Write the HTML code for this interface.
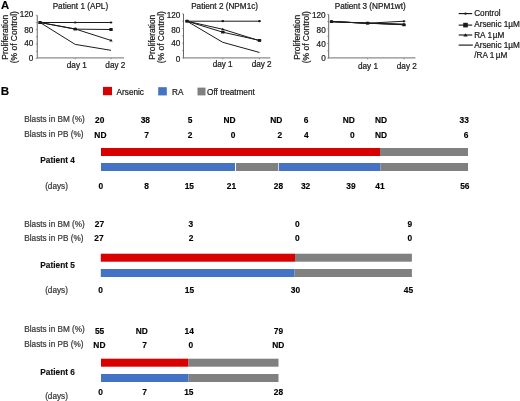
<!DOCTYPE html>
<html><head><meta charset="utf-8"><style>
html,body{margin:0;padding:0;background:#fff;width:520px;height:401px;overflow:hidden;}
svg{display:block;font-family:"Liberation Sans", sans-serif;will-change:transform;}
</style></head><body>
<svg width="520" height="401" viewBox="0 0 520 401" font-family='"Liberation Sans", sans-serif'>
<text x="0.9" y="8.9" font-size="11.3" text-anchor="start" font-weight="bold" fill="#000" stroke="#000" stroke-width="0.15">A</text>
<text x="0.8" y="94.7" font-size="11.6" text-anchor="start" font-weight="bold" fill="#000" stroke="#000" stroke-width="0.15">B</text>
<text x="80.4" y="9.1" font-size="8.2" text-anchor="middle" fill="#1a1a1a" stroke="#1a1a1a" stroke-width="0.22">Patient 1 (APL)</text>
<text x="0" y="0" font-size="8.45" text-anchor="middle" fill="#1a1a1a" stroke="#1a1a1a" stroke-width="0.22" transform="translate(8.25,37.2) rotate(-90)">Proliferation</text>
<text x="0" y="0" font-size="8.45" text-anchor="middle" fill="#1a1a1a" stroke="#1a1a1a" stroke-width="0.22" transform="translate(17.25,37.2) rotate(-90)">(% of Control)</text>
<text x="33.3" y="17.2" font-size="8.2" text-anchor="end" fill="#1a1a1a" stroke="#1a1a1a" stroke-width="0.22">120</text>
<text x="33.3" y="32.6" font-size="8.2" text-anchor="end" fill="#1a1a1a" stroke="#1a1a1a" stroke-width="0.22">80</text>
<text x="33.3" y="46.3" font-size="8.2" text-anchor="end" fill="#1a1a1a" stroke="#1a1a1a" stroke-width="0.22">40</text>
<text x="33.3" y="60.6" font-size="8.2" text-anchor="end" fill="#1a1a1a" stroke="#1a1a1a" stroke-width="0.22">0</text>
<line x1="37.25" y1="15.32" x2="37.25" y2="58.4" stroke="#686868" stroke-width="1"/>
<line x1="36.75" y1="57.9" x2="124.0" y2="57.9" stroke="#8c8c8c" stroke-width="1.2"/>
<line x1="35.75" y1="58.4" x2="37.25" y2="58.4" stroke="#686868" stroke-width="0.6"/>
<line x1="35.75" y1="51.22" x2="37.25" y2="51.22" stroke="#686868" stroke-width="0.6"/>
<line x1="35.75" y1="44.04" x2="37.25" y2="44.04" stroke="#686868" stroke-width="0.6"/>
<line x1="35.75" y1="36.86" x2="37.25" y2="36.86" stroke="#686868" stroke-width="0.6"/>
<line x1="35.75" y1="29.68" x2="37.25" y2="29.68" stroke="#686868" stroke-width="0.6"/>
<line x1="35.75" y1="22.5" x2="37.25" y2="22.5" stroke="#686868" stroke-width="0.6"/>
<line x1="35.75" y1="15.32" x2="37.25" y2="15.32" stroke="#686868" stroke-width="0.6"/>
<line x1="75.2" y1="57.9" x2="75.2" y2="59.4" stroke="#686868" stroke-width="0.6"/>
<line x1="111.0" y1="57.9" x2="111.0" y2="59.4" stroke="#686868" stroke-width="0.6"/>
<text x="76.8" y="68.1" font-size="8.2" text-anchor="middle" fill="#1a1a1a" stroke="#1a1a1a" stroke-width="0.22">day 1</text>
<text x="115.35" y="68.1" font-size="8.2" text-anchor="middle" fill="#1a1a1a" stroke="#1a1a1a" stroke-width="0.22">day 2</text>
<polyline points="40.05,22.5 75.2,44.4 111.0,50.32" fill="none" stroke="#1a1a1a" stroke-width="1"/>
<polyline points="40.05,22.5 75.2,28.96 111.0,40.45" fill="none" stroke="#1a1a1a" stroke-width="1"/>
<polygon points="40.05,20.9 38.349999999999994,23.6 41.75,23.6" fill="#1a1a1a"/>
<polygon points="75.2,27.36 73.5,30.060000000000002 76.9,30.060000000000002" fill="#1a1a1a"/>
<polygon points="111.0,38.85 109.3,41.550000000000004 112.7,41.550000000000004" fill="#1a1a1a"/>
<polyline points="40.05,22.5 75.2,29.14 111.0,29.5" fill="none" stroke="#1a1a1a" stroke-width="1"/>
<rect x="38.349999999999994" y="21.1" width="3.4" height="2.8" rx="0.5" fill="#1a1a1a"/>
<rect x="73.5" y="27.740000000000002" width="3.4" height="2.8" rx="0.5" fill="#1a1a1a"/>
<rect x="109.3" y="28.1" width="3.4" height="2.8" rx="0.5" fill="#1a1a1a"/>
<polyline points="40.05,22.5 75.2,22.5 111.0,22.5" fill="none" stroke="#1a1a1a" stroke-width="1"/>
<ellipse cx="40.05" cy="22.5" rx="1.4" ry="1.1" fill="#1a1a1a"/>
<ellipse cx="75.2" cy="22.5" rx="1.4" ry="1.1" fill="#1a1a1a"/>
<ellipse cx="111.0" cy="22.5" rx="1.4" ry="1.1" fill="#1a1a1a"/>
<text x="224.6" y="9.1" font-size="8.2" text-anchor="middle" fill="#1a1a1a" stroke="#1a1a1a" stroke-width="0.22">Patient 2 (NPM1c)</text>
<text x="0" y="0" font-size="8.45" text-anchor="middle" fill="#1a1a1a" stroke="#1a1a1a" stroke-width="0.22" transform="translate(154.5,37.2) rotate(-90)">Proliferation</text>
<text x="0" y="0" font-size="8.45" text-anchor="middle" fill="#1a1a1a" stroke="#1a1a1a" stroke-width="0.22" transform="translate(163.5,37.2) rotate(-90)">(% of Control)</text>
<text x="180.4" y="18.099999999999998" font-size="8.2" text-anchor="end" fill="#1a1a1a" stroke="#1a1a1a" stroke-width="0.22">120</text>
<text x="180.4" y="32.55" font-size="8.2" text-anchor="end" fill="#1a1a1a" stroke="#1a1a1a" stroke-width="0.22">80</text>
<text x="180.4" y="46.3" font-size="8.2" text-anchor="end" fill="#1a1a1a" stroke="#1a1a1a" stroke-width="0.22">40</text>
<text x="180.4" y="61.5" font-size="8.2" text-anchor="end" fill="#1a1a1a" stroke="#1a1a1a" stroke-width="0.22">0</text>
<line x1="183.5" y1="13.86" x2="183.5" y2="58.4" stroke="#686868" stroke-width="1"/>
<line x1="183.0" y1="57.9" x2="270.3" y2="57.9" stroke="#8c8c8c" stroke-width="1.2"/>
<line x1="182.0" y1="57.9" x2="183.5" y2="57.9" stroke="#686868" stroke-width="0.6"/>
<line x1="182.0" y1="50.56" x2="183.5" y2="50.56" stroke="#686868" stroke-width="0.6"/>
<line x1="182.0" y1="43.22" x2="183.5" y2="43.22" stroke="#686868" stroke-width="0.6"/>
<line x1="182.0" y1="35.88" x2="183.5" y2="35.88" stroke="#686868" stroke-width="0.6"/>
<line x1="182.0" y1="28.54" x2="183.5" y2="28.54" stroke="#686868" stroke-width="0.6"/>
<line x1="182.0" y1="21.2" x2="183.5" y2="21.2" stroke="#686868" stroke-width="0.6"/>
<line x1="182.0" y1="13.86" x2="183.5" y2="13.86" stroke="#686868" stroke-width="0.6"/>
<line x1="222.8" y1="57.9" x2="222.8" y2="59.4" stroke="#686868" stroke-width="0.6"/>
<line x1="259.5" y1="57.9" x2="259.5" y2="59.4" stroke="#686868" stroke-width="0.6"/>
<text x="222.65" y="66.6" font-size="8.2" text-anchor="middle" fill="#1a1a1a" stroke="#1a1a1a" stroke-width="0.22">day 1</text>
<text x="261.65" y="66.6" font-size="8.2" text-anchor="middle" fill="#1a1a1a" stroke="#1a1a1a" stroke-width="0.22">day 2</text>
<polyline points="187.0,21.2 222.8,42.34 259.5,52.47" fill="none" stroke="#1a1a1a" stroke-width="1"/>
<polyline points="187.0,21.2 222.8,29.27 259.5,40.76" fill="none" stroke="#1a1a1a" stroke-width="1"/>
<polygon points="187.0,19.599999999999998 185.3,22.3 188.7,22.3" fill="#1a1a1a"/>
<polygon points="222.8,27.669999999999998 221.10000000000002,30.37 224.5,30.37" fill="#1a1a1a"/>
<polygon points="259.5,39.16 257.8,41.86 261.2,41.86" fill="#1a1a1a"/>
<polyline points="187.0,21.2 222.8,32.21 259.5,40.36" fill="none" stroke="#1a1a1a" stroke-width="1"/>
<rect x="185.3" y="19.8" width="3.4" height="2.8" rx="0.5" fill="#1a1a1a"/>
<rect x="221.10000000000002" y="30.810000000000002" width="3.4" height="2.8" rx="0.5" fill="#1a1a1a"/>
<rect x="257.8" y="38.96" width="3.4" height="2.8" rx="0.5" fill="#1a1a1a"/>
<polyline points="187.0,21.2 222.8,21.2 259.5,21.2" fill="none" stroke="#1a1a1a" stroke-width="1"/>
<ellipse cx="187.0" cy="21.2" rx="1.4" ry="1.1" fill="#1a1a1a"/>
<ellipse cx="222.8" cy="21.2" rx="1.4" ry="1.1" fill="#1a1a1a"/>
<ellipse cx="259.5" cy="21.2" rx="1.4" ry="1.1" fill="#1a1a1a"/>
<text x="370.2" y="9.1" font-size="8.2" text-anchor="middle" fill="#1a1a1a" stroke="#1a1a1a" stroke-width="0.22">Patient 3 (NPM1wt)</text>
<text x="0" y="0" font-size="8.45" text-anchor="middle" fill="#1a1a1a" stroke="#1a1a1a" stroke-width="0.22" transform="translate(299.7,37.2) rotate(-90)">Proliferation</text>
<text x="0" y="0" font-size="8.45" text-anchor="middle" fill="#1a1a1a" stroke="#1a1a1a" stroke-width="0.22" transform="translate(308.7,37.2) rotate(-90)">(% of Control)</text>
<text x="325.7" y="17.599999999999998" font-size="8.2" text-anchor="end" fill="#1a1a1a" stroke="#1a1a1a" stroke-width="0.22">120</text>
<text x="325.7" y="33.0" font-size="8.2" text-anchor="end" fill="#1a1a1a" stroke="#1a1a1a" stroke-width="0.22">80</text>
<text x="325.7" y="46.699999999999996" font-size="8.2" text-anchor="end" fill="#1a1a1a" stroke="#1a1a1a" stroke-width="0.22">40</text>
<text x="325.7" y="61.199999999999996" font-size="8.2" text-anchor="end" fill="#1a1a1a" stroke="#1a1a1a" stroke-width="0.22">0</text>
<line x1="328.7" y1="14.3" x2="328.7" y2="58.4" stroke="#686868" stroke-width="1"/>
<line x1="328.2" y1="57.9" x2="415.5" y2="57.9" stroke="#8c8c8c" stroke-width="1.2"/>
<line x1="327.2" y1="58.1" x2="328.7" y2="58.1" stroke="#686868" stroke-width="0.6"/>
<line x1="327.2" y1="50.8" x2="328.7" y2="50.8" stroke="#686868" stroke-width="0.6"/>
<line x1="327.2" y1="43.5" x2="328.7" y2="43.5" stroke="#686868" stroke-width="0.6"/>
<line x1="327.2" y1="36.2" x2="328.7" y2="36.2" stroke="#686868" stroke-width="0.6"/>
<line x1="327.2" y1="28.9" x2="328.7" y2="28.9" stroke="#686868" stroke-width="0.6"/>
<line x1="327.2" y1="21.6" x2="328.7" y2="21.6" stroke="#686868" stroke-width="0.6"/>
<line x1="327.2" y1="14.3" x2="328.7" y2="14.3" stroke="#686868" stroke-width="0.6"/>
<line x1="367.6" y1="57.9" x2="367.6" y2="59.4" stroke="#686868" stroke-width="0.6"/>
<line x1="404.0" y1="57.9" x2="404.0" y2="59.4" stroke="#686868" stroke-width="0.6"/>
<text x="367.95" y="68.8" font-size="8.2" text-anchor="middle" fill="#1a1a1a" stroke="#1a1a1a" stroke-width="0.22">day 1</text>
<text x="406.8" y="68.8" font-size="8.2" text-anchor="middle" fill="#1a1a1a" stroke="#1a1a1a" stroke-width="0.22">day 2</text>
<polyline points="331.5,21.6 367.6,23.21 404.0,24.45" fill="none" stroke="#1a1a1a" stroke-width="1"/>
<polyline points="331.5,21.6 367.6,23.21 404.0,24.16" fill="none" stroke="#1a1a1a" stroke-width="1"/>
<polygon points="331.5,20.0 329.8,22.700000000000003 333.2,22.700000000000003" fill="#1a1a1a"/>
<polygon points="367.6,21.61 365.90000000000003,24.310000000000002 369.3,24.310000000000002" fill="#1a1a1a"/>
<polygon points="404.0,22.56 402.3,25.26 405.7,25.26" fill="#1a1a1a"/>
<polyline points="331.5,21.6 367.6,23.21 404.0,24.81" fill="none" stroke="#1a1a1a" stroke-width="1"/>
<rect x="329.8" y="20.200000000000003" width="3.4" height="2.8" rx="0.5" fill="#1a1a1a"/>
<rect x="365.90000000000003" y="21.810000000000002" width="3.4" height="2.8" rx="0.5" fill="#1a1a1a"/>
<rect x="402.3" y="23.41" width="3.4" height="2.8" rx="0.5" fill="#1a1a1a"/>
<polyline points="331.5,21.6 367.6,23.21 404.0,21.23" fill="none" stroke="#1a1a1a" stroke-width="1"/>
<ellipse cx="331.5" cy="21.6" rx="1.4" ry="1.1" fill="#1a1a1a"/>
<ellipse cx="367.6" cy="23.21" rx="1.4" ry="1.1" fill="#1a1a1a"/>
<ellipse cx="404.0" cy="21.23" rx="1.4" ry="1.1" fill="#1a1a1a"/>
<line x1="458.7" y1="13.6" x2="472.2" y2="13.6" stroke="#1a1a1a" stroke-width="1.15"/>
<circle cx="465.5" cy="13.6" r="1.2" fill="#1a1a1a"/>
<text x="474.2" y="16.0" font-size="8.2" text-anchor="start" fill="#1a1a1a" stroke="#1a1a1a" stroke-width="0.22">Control</text>
<line x1="458.7" y1="25.1" x2="472.2" y2="25.1" stroke="#1a1a1a" stroke-width="1.15"/>
<rect x="463.2" y="22.8" width="4.6" height="4.6" fill="#1a1a1a"/>
<text x="474.2" y="27.4" font-size="8.2" text-anchor="start" fill="#1a1a1a" stroke="#1a1a1a" stroke-width="0.22">Arsenic 1µM</text>
<line x1="458.7" y1="35.0" x2="472.2" y2="35.0" stroke="#1a1a1a" stroke-width="1.15"/>
<polygon points="465.5,33.2 463.3,36.4 467.7,36.4" fill="#1a1a1a"/>
<text x="474.2" y="37.9" font-size="8.2" text-anchor="start" fill="#1a1a1a" stroke="#1a1a1a" stroke-width="0.22">RA 1<tspan dx="0.9">µM</tspan></text>
<line x1="458.7" y1="45.1" x2="472.8" y2="45.1" stroke="#1a1a1a" stroke-width="1.15"/>
<text x="474.2" y="48.0" font-size="8.2" text-anchor="start" fill="#1a1a1a" stroke="#1a1a1a" stroke-width="0.22">Arsenic 1µM</text>
<text x="474.2" y="57.8" font-size="8.2" text-anchor="start" fill="#1a1a1a" stroke="#1a1a1a" stroke-width="0.22">/RA 1<tspan dx="1.5">µM</tspan></text>
<rect x="103" y="86.9" width="9" height="8.3" fill="#d90000"/>
<text x="116.6" y="94.6" font-size="8.2" text-anchor="start" fill="#1a1a1a" stroke="#1a1a1a" stroke-width="0.22">Arsenic</text>
<rect x="158.2" y="87.2" width="8.6" height="8.2" fill="#4472c4"/>
<text x="172" y="94.6" font-size="8.2" text-anchor="start" fill="#1a1a1a" stroke="#1a1a1a" stroke-width="0.22">RA</text>
<rect x="197.5" y="87.6" width="8" height="7.8" fill="#808080"/>
<text x="207.1" y="94.6" font-size="8.2" text-anchor="start" fill="#1a1a1a" stroke="#1a1a1a" stroke-width="0.22">Off treatment</text>
<text x="24.3" y="121.9" font-size="8.2" text-anchor="start" fill="#383838" stroke="#383838" stroke-width="0.22">Blasts in BM (%)</text>
<text x="24.3" y="136.9" font-size="8.2" text-anchor="start" fill="#383838" stroke="#383838" stroke-width="0.22">Blasts in PB (%)</text>
<text x="57.6" y="163.0" font-size="8.3" text-anchor="middle" font-weight="bold" fill="#111" stroke="#111" stroke-width="0.15">Patient 4</text>
<text x="56.5" y="188.5" font-size="8.2" text-anchor="middle" fill="#383838" stroke="#383838" stroke-width="0.22">(days)</text>
<text x="99.7" y="122.7" font-size="8.4" text-anchor="middle" font-weight="bold" fill="#000" stroke="#000" stroke-width="0.15">20</text>
<text x="145.3" y="122.7" font-size="8.4" text-anchor="middle" font-weight="bold" fill="#000" stroke="#000" stroke-width="0.15">38</text>
<text x="190.2" y="122.7" font-size="8.4" text-anchor="middle" font-weight="bold" fill="#000" stroke="#000" stroke-width="0.15">5</text>
<text x="229.6" y="122.7" font-size="8.4" text-anchor="middle" font-weight="bold" fill="#000" stroke="#000" stroke-width="0.15">ND</text>
<text x="276.3" y="122.7" font-size="8.4" text-anchor="middle" font-weight="bold" fill="#000" stroke="#000" stroke-width="0.15">ND</text>
<text x="306.2" y="122.7" font-size="8.4" text-anchor="middle" font-weight="bold" fill="#000" stroke="#000" stroke-width="0.15">6</text>
<text x="348.7" y="122.7" font-size="8.4" text-anchor="middle" font-weight="bold" fill="#000" stroke="#000" stroke-width="0.15">ND</text>
<text x="381" y="122.7" font-size="8.4" text-anchor="middle" font-weight="bold" fill="#000" stroke="#000" stroke-width="0.15">ND</text>
<text x="464.2" y="122.7" font-size="8.4" text-anchor="middle" font-weight="bold" fill="#000" stroke="#000" stroke-width="0.15">33</text>
<text x="100.4" y="138.0" font-size="8.4" text-anchor="middle" font-weight="bold" fill="#000" stroke="#000" stroke-width="0.15">ND</text>
<text x="146.7" y="138.0" font-size="8.4" text-anchor="middle" font-weight="bold" fill="#000" stroke="#000" stroke-width="0.15">7</text>
<text x="190.2" y="138.0" font-size="8.4" text-anchor="middle" font-weight="bold" fill="#000" stroke="#000" stroke-width="0.15">2</text>
<text x="233.1" y="138.0" font-size="8.4" text-anchor="middle" font-weight="bold" fill="#000" stroke="#000" stroke-width="0.15">0</text>
<text x="279.9" y="138.0" font-size="8.4" text-anchor="middle" font-weight="bold" fill="#000" stroke="#000" stroke-width="0.15">2</text>
<text x="306.3" y="138.0" font-size="8.4" text-anchor="middle" font-weight="bold" fill="#000" stroke="#000" stroke-width="0.15">4</text>
<text x="352.3" y="138.0" font-size="8.4" text-anchor="middle" font-weight="bold" fill="#000" stroke="#000" stroke-width="0.15">0</text>
<text x="381" y="138.0" font-size="8.4" text-anchor="middle" font-weight="bold" fill="#000" stroke="#000" stroke-width="0.15">ND</text>
<text x="466" y="138.0" font-size="8.4" text-anchor="middle" font-weight="bold" fill="#000" stroke="#000" stroke-width="0.15">6</text>
<text x="100.9" y="188.6" font-size="8.4" text-anchor="middle" font-weight="bold" fill="#000" stroke="#000" stroke-width="0.15">0</text>
<text x="146.7" y="188.6" font-size="8.4" text-anchor="middle" font-weight="bold" fill="#000" stroke="#000" stroke-width="0.15">8</text>
<text x="189.3" y="188.6" font-size="8.4" text-anchor="middle" font-weight="bold" fill="#000" stroke="#000" stroke-width="0.15">15</text>
<text x="231.5" y="188.6" font-size="8.4" text-anchor="middle" font-weight="bold" fill="#000" stroke="#000" stroke-width="0.15">21</text>
<text x="278.5" y="188.6" font-size="8.4" text-anchor="middle" font-weight="bold" fill="#000" stroke="#000" stroke-width="0.15">28</text>
<text x="305.6" y="188.6" font-size="8.4" text-anchor="middle" font-weight="bold" fill="#000" stroke="#000" stroke-width="0.15">32</text>
<text x="350.9" y="188.6" font-size="8.4" text-anchor="middle" font-weight="bold" fill="#000" stroke="#000" stroke-width="0.15">39</text>
<text x="380" y="188.6" font-size="8.4" text-anchor="middle" font-weight="bold" fill="#000" stroke="#000" stroke-width="0.15">41</text>
<text x="464.8" y="188.6" font-size="8.4" text-anchor="middle" font-weight="bold" fill="#000" stroke="#000" stroke-width="0.15">56</text>
<rect x="101" y="148" width="279" height="8" fill="#d90000"/>
<rect x="380" y="148" width="88" height="8" fill="#808080"/>
<rect x="101" y="163" width="134" height="8" fill="#4472c4"/>
<rect x="236" y="163" width="42.3" height="8" fill="#808080"/>
<rect x="279" y="163" width="101.5" height="8" fill="#4472c4"/>
<rect x="380.5" y="163" width="87.5" height="8" fill="#808080"/>
<text x="24.3" y="227.0" font-size="8.2" text-anchor="start" fill="#383838" stroke="#383838" stroke-width="0.22">Blasts in BM (%)</text>
<text x="24.3" y="241.1" font-size="8.2" text-anchor="start" fill="#383838" stroke="#383838" stroke-width="0.22">Blasts in PB (%)</text>
<text x="57.6" y="268.0" font-size="8.3" text-anchor="middle" font-weight="bold" fill="#111" stroke="#111" stroke-width="0.15">Patient 5</text>
<text x="56.5" y="293.3" font-size="8.2" text-anchor="middle" fill="#383838" stroke="#383838" stroke-width="0.22">(days)</text>
<text x="99.4" y="226.7" font-size="8.4" text-anchor="middle" font-weight="bold" fill="#000" stroke="#000" stroke-width="0.15">27</text>
<text x="190.9" y="226.7" font-size="8.4" text-anchor="middle" font-weight="bold" fill="#000" stroke="#000" stroke-width="0.15">3</text>
<text x="297.3" y="226.7" font-size="8.4" text-anchor="middle" font-weight="bold" fill="#000" stroke="#000" stroke-width="0.15">0</text>
<text x="409.8" y="226.7" font-size="8.4" text-anchor="middle" font-weight="bold" fill="#000" stroke="#000" stroke-width="0.15">9</text>
<text x="99" y="240.6" font-size="8.4" text-anchor="middle" font-weight="bold" fill="#000" stroke="#000" stroke-width="0.15">27</text>
<text x="191.1" y="240.6" font-size="8.4" text-anchor="middle" font-weight="bold" fill="#000" stroke="#000" stroke-width="0.15">2</text>
<text x="297.4" y="240.6" font-size="8.4" text-anchor="middle" font-weight="bold" fill="#000" stroke="#000" stroke-width="0.15">0</text>
<text x="409.8" y="240.6" font-size="8.4" text-anchor="middle" font-weight="bold" fill="#000" stroke="#000" stroke-width="0.15">0</text>
<text x="100.6" y="292.8" font-size="8.4" text-anchor="middle" font-weight="bold" fill="#000" stroke="#000" stroke-width="0.15">0</text>
<text x="189.5" y="292.8" font-size="8.4" text-anchor="middle" font-weight="bold" fill="#000" stroke="#000" stroke-width="0.15">15</text>
<text x="295.5" y="292.8" font-size="8.4" text-anchor="middle" font-weight="bold" fill="#000" stroke="#000" stroke-width="0.15">30</text>
<text x="408.5" y="292.8" font-size="8.4" text-anchor="middle" font-weight="bold" fill="#000" stroke="#000" stroke-width="0.15">45</text>
<rect x="100.8" y="253.7" width="194.2" height="8" fill="#d90000"/>
<rect x="295" y="253.7" width="116.9" height="8" fill="#808080"/>
<rect x="100.8" y="269" width="193.8" height="8" fill="#4472c4"/>
<rect x="294.6" y="269" width="117.3" height="8" fill="#808080"/>
<text x="24.3" y="332.4" font-size="8.2" text-anchor="start" fill="#383838" stroke="#383838" stroke-width="0.22">Blasts in BM (%)</text>
<text x="24.3" y="347.1" font-size="8.2" text-anchor="start" fill="#383838" stroke="#383838" stroke-width="0.22">Blasts in PB (%)</text>
<text x="57.6" y="375.0" font-size="8.3" text-anchor="middle" font-weight="bold" fill="#111" stroke="#111" stroke-width="0.15">Patient 6</text>
<text x="56.5" y="398.6" font-size="8.2" text-anchor="middle" fill="#383838" stroke="#383838" stroke-width="0.22">(days)</text>
<text x="99.6" y="333.7" font-size="8.4" text-anchor="middle" font-weight="bold" fill="#000" stroke="#000" stroke-width="0.15">55</text>
<text x="141.8" y="333.7" font-size="8.4" text-anchor="middle" font-weight="bold" fill="#000" stroke="#000" stroke-width="0.15">ND</text>
<text x="189.2" y="333.7" font-size="8.4" text-anchor="middle" font-weight="bold" fill="#000" stroke="#000" stroke-width="0.15">14</text>
<text x="278.5" y="333.7" font-size="8.4" text-anchor="middle" font-weight="bold" fill="#000" stroke="#000" stroke-width="0.15">79</text>
<text x="99.4" y="348.0" font-size="8.4" text-anchor="middle" font-weight="bold" fill="#000" stroke="#000" stroke-width="0.15">ND</text>
<text x="144.6" y="348.0" font-size="8.4" text-anchor="middle" font-weight="bold" fill="#000" stroke="#000" stroke-width="0.15">7</text>
<text x="190.8" y="348.0" font-size="8.4" text-anchor="middle" font-weight="bold" fill="#000" stroke="#000" stroke-width="0.15">0</text>
<text x="278.2" y="348.0" font-size="8.4" text-anchor="middle" font-weight="bold" fill="#000" stroke="#000" stroke-width="0.15">ND</text>
<text x="100.6" y="394.9" font-size="8.4" text-anchor="middle" font-weight="bold" fill="#000" stroke="#000" stroke-width="0.15">0</text>
<text x="144.6" y="394.9" font-size="8.4" text-anchor="middle" font-weight="bold" fill="#000" stroke="#000" stroke-width="0.15">7</text>
<text x="188.8" y="394.9" font-size="8.4" text-anchor="middle" font-weight="bold" fill="#000" stroke="#000" stroke-width="0.15">15</text>
<text x="278.5" y="394.9" font-size="8.4" text-anchor="middle" font-weight="bold" fill="#000" stroke="#000" stroke-width="0.15">28</text>
<rect x="101" y="358.7" width="87.5" height="8" fill="#d90000"/>
<rect x="188.5" y="358.7" width="90.0" height="8" fill="#808080"/>
<rect x="101" y="374" width="87.5" height="8" fill="#4472c4"/>
<rect x="188.5" y="374" width="90.0" height="8" fill="#808080"/>
</svg>
</body></html>
